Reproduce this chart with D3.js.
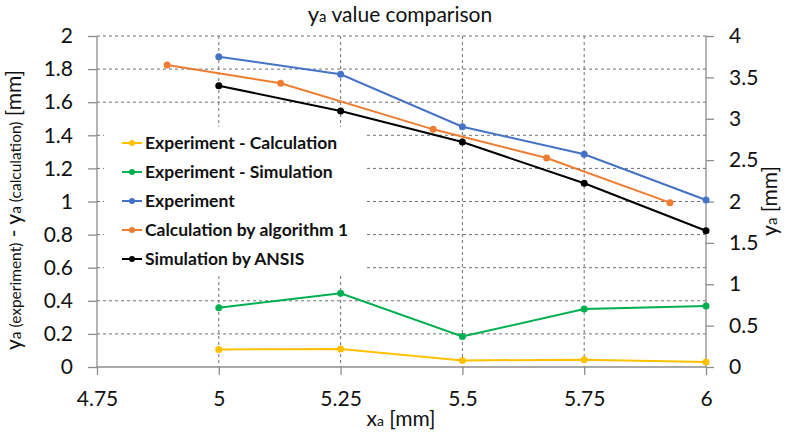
<!DOCTYPE html>
<html><head><meta charset="utf-8">
<script src="https://cdn.jsdelivr.net/npm/d3@7"></script>
<style>body{margin:0;background:#fff}svg{display:block;font-family:Lato,"Open Sans",sans-serif}</style>
</head><body><svg id="c" width="786" height="435"></svg>
<script>
const xTicks = [4.75, 5, 5.25, 5.5, 5.75, 6];
const yLeftTicks = [0, 0.2, 0.4, 0.6, 0.8, 1, 1.2, 1.4, 1.6, 1.8, 2];
const yRightTicks = [0, 0.5, 1, 1.5, 2, 2.5, 3, 3.5, 4];
const xStd = [5, 5.25, 5.5, 5.75, 6];
const expMinusCalc = [0.106, 0.109, 0.040, 0.044, 0.030];
const expMinusSim = [0.358, 0.445, 0.185, 0.350, 0.368];
const experiment = [3.75, 3.537, 2.904, 2.57, 2.018];
const calcX = [4.894, 5.127, 5.44, 5.673, 5.926];
const calcY = [3.65, 3.428, 2.872, 2.526, 1.986];
const simulation = [3.40, 3.094, 2.719, 2.22, 1.647];
const seriesNames = ["Experiment - Calculation", "Experiment - Simulation", "Experiment", "Calculation by algorithm 1", "Simulation by ANSIS"];
const colors = ["#FFC000", "#00B050", "#4472C4", "#ED7D31", "#000000"];

const svg = d3.select("#c");
const L = 97, R = 706, T = 36, B = 367;
const x = d3.scaleLinear().domain([4.75, 6]).range([L, R]);
const yL = d3.scaleLinear().domain([0, 2]).range([B, T]);
const yR = d3.scaleLinear().domain([0, 4]).range([B, T]);
const axisCol = "#8c8c8c";
const gridCol = "#707070";

// grid
const g = svg.append("g");
g.selectAll(".hg").data(yLeftTicks.filter(d => d > 0)).join("line")
  .attr("x1", L).attr("x2", R).attr("y1", d => yL(d)).attr("y2", d => yL(d))
  .attr("stroke", gridCol).attr("stroke-width", 1).attr("stroke-dasharray", "3,3");
g.selectAll(".vg").data(xTicks.filter(d => d > 4.75 && d < 6)).join("line")
  .attr("x1", d => x(d)).attr("x2", d => x(d)).attr("y1", T).attr("y2", B)
  .attr("stroke", gridCol).attr("stroke-width", 1).attr("stroke-dasharray", "3,3");

// axes
const fs = 21;
const ax = svg.append("g").attr("transform", `translate(0,${B})`)
  .call(d3.axisBottom(x).tickValues(xTicks).tickFormat(d3.format("")).tickSize(8).tickPadding(16));
const ayl = svg.append("g").attr("transform", `translate(${L},0)`)
  .call(d3.axisLeft(yL).tickValues(yLeftTicks).tickFormat(d3.format("")).tickSize(9).tickPadding(15));
const ayr = svg.append("g").attr("transform", `translate(${R},0)`)
  .call(d3.axisRight(yR).tickValues(yRightTicks).tickFormat(d3.format("")).tickSize(8).tickPadding(15));
[ax, ayl, ayr].forEach(a => {
  a.select(".domain").attr("stroke", axisCol).attr("stroke-width", 1.3);
  a.selectAll(".tick line").attr("stroke", axisCol).attr("stroke-width", 1.3);
  a.selectAll(".tick text").attr("font-size", fs).attr("font-family", "Lato").attr("fill", "#111");
});
ax.select(".domain").attr("d", `M${L},0H${R}`);
ayl.select(".domain").attr("d", `M0,${B}V${T}`);
ayr.select(".domain").attr("d", `M0,${B}V${T}`);

// legend background (covers grid)
const lg = svg.append("g");
lg.append("rect").attr("x", 104).attr("y", 127).attr("width", 260).attr("height", 146).attr("fill", "#fff");

// series
function drawSeries(xs, ys, yScale, color) {
  const pts = xs.map((d, i) => [x(d), yScale(ys[i])]);
  svg.append("path").attr("d", d3.line()(pts)).attr("fill", "none").attr("stroke", color).attr("stroke-width", 2);
  svg.append("g").selectAll("circle").data(pts).join("circle")
    .attr("cx", d => d[0]).attr("cy", d => d[1]).attr("r", 3.5).attr("fill", color);
}
drawSeries(xStd, expMinusCalc, yL, colors[0]);
drawSeries(xStd, expMinusSim, yL, colors[1]);
drawSeries(xStd, experiment, yR, colors[2]);
drawSeries(calcX, calcY, yR, colors[3]);
drawSeries(xStd, simulation, yR, colors[4]);

// legend
seriesNames.forEach((n, i) => {
  const yy = 143 + i * 29;
  lg.append("line").attr("x1", 122).attr("x2", 142).attr("y1", yy).attr("y2", yy).attr("stroke", colors[i]).attr("stroke-width", 2);
  lg.append("circle").attr("cx", 132).attr("cy", yy).attr("r", 3).attr("fill", colors[i]);
  lg.append("text").attr("x", 145).attr("y", yy).attr("dy", "0.35em").attr("font-size", 17.5).attr("font-weight", "bold")
    .attr("font-family", "Lato").attr("fill", "#111").text(n);
});

// titles
function rich(sel, parts) {
  parts.forEach(p => sel.append("tspan").attr("font-size", p[1]).text(p[0]));
  return sel;
}
rich(svg.append("text").attr("x", 400).attr("y", 22).attr("text-anchor", "middle").attr("fill", "#111").attr("font-family", "Lato"),
  [["y", 22], ["a", 15], [" value comparison", 21]]);
rich(svg.append("text").attr("x", 401).attr("y", 426).attr("text-anchor", "middle").attr("fill", "#111").attr("font-family", "Lato"),
  [["x", 21], ["a", 14], [" [mm]", 21]]);
rich(svg.append("text").attr("transform", "translate(21,210) rotate(-90)").attr("text-anchor", "middle").attr("fill", "#111").attr("font-family", "Lato"),
  [["y", 21], ["a (experiment)", 15.5], [" - y", 21], ["a (calculation)", 15.5], [" [mm]", 21]]);
rich(svg.append("text").attr("transform", "translate(777,201) rotate(-90)").attr("text-anchor", "middle").attr("fill", "#111").attr("font-family", "Lato"),
  [["y", 21], ["a", 15], [" [mm]", 21]]);
</script></body></html>
